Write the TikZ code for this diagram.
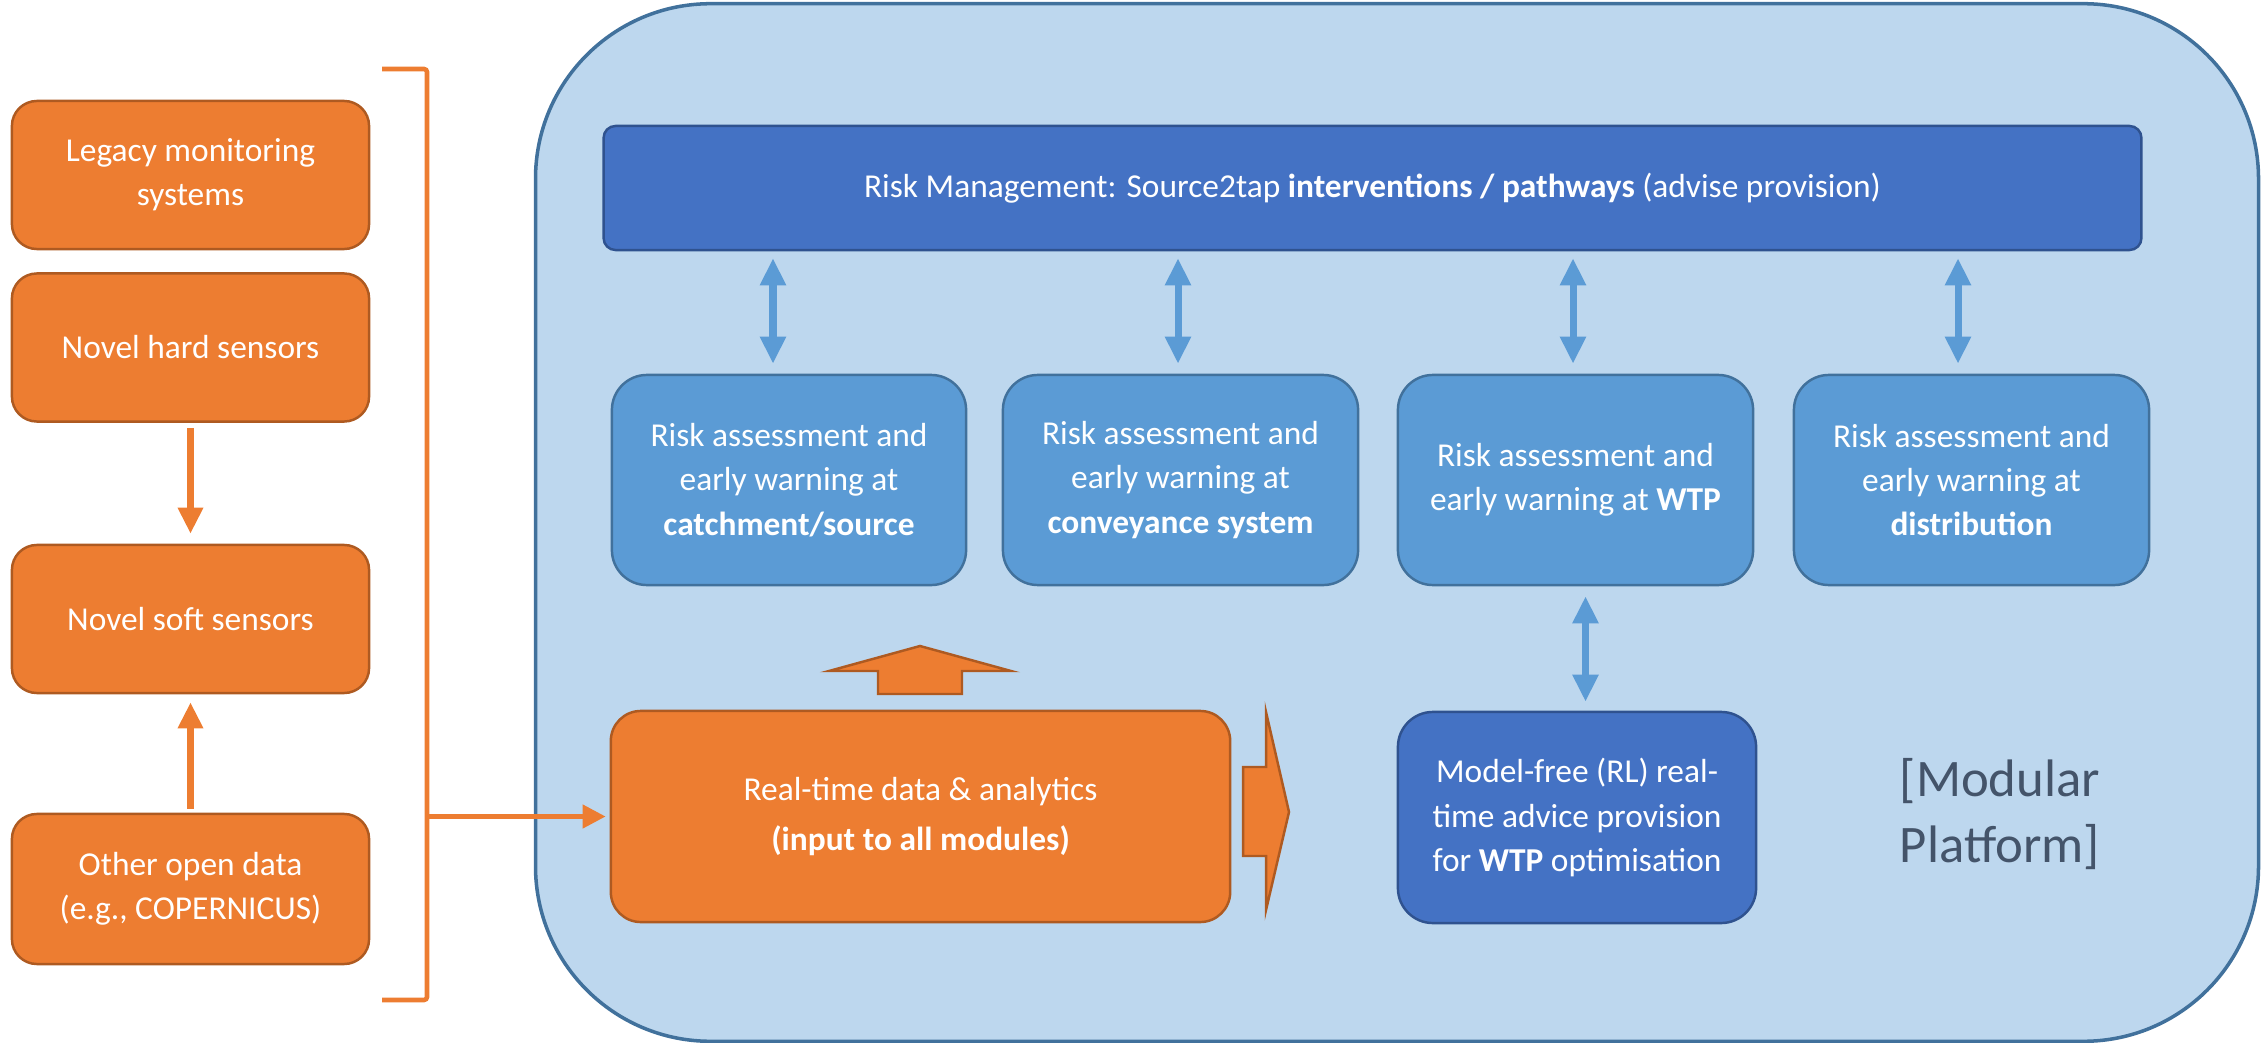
\documentclass[tikz,border=0pt]{standalone}
\usepackage{fontspec}
\setmainfont{Carlito}
\usetikzlibrary{arrows.meta}
\definecolor{orng}{HTML}{ED7D31}
\definecolor{orngd}{HTML}{AE5A21}
\definecolor{plat}{HTML}{BDD7EE}
\definecolor{platd}{HTML}{41719C}
\definecolor{bdark}{HTML}{4472C4}
\definecolor{bdarkd}{HTML}{2F528F}
\definecolor{bmid}{HTML}{5B9BD5}
\definecolor{bmidd}{HTML}{41719C}
\definecolor{slate}{HTML}{44546A}
\begin{document}
\begin{tikzpicture}[x=0.01cm,y=-0.01cm,
 txt/.style={text=white,font=\fontsize{9.5}{12.6}\selectfont,align=center,inner sep=0pt},
 obox/.style={txt,draw=orngd,fill=orng,line width=0.7pt,rounded corners=0.25cm},
 lbox/.style={obox,minimum width=3.57cm,minimum height=1.48cm},
 barbox/.style={txt,draw=bdarkd,fill=bdark,line width=0.7pt,rounded corners=0.12cm},
 rbox/.style={txt,draw=bmidd,fill=bmid,line width=0.7pt,rounded corners=0.35cm,minimum width=3.55cm,minimum height=2.1cm},
 oarr/.style={draw=orng,line width=2pt,-{Triangle[length=7.4pt,width=6.8pt]}},
 larr/.style={draw=orng,line width=1.3pt,-{Triangle[length=6.5pt,width=6.5pt]}},
 darr/.style={draw=bmid,line width=2pt,{Triangle[length=7.7pt,width=7pt]}-{Triangle[length=7.7pt,width=7pt]}},
 blk/.style={fill=orng,draw=orngd,line width=0.7pt,line join=miter}
]
\useasboundingbox (0,0) rectangle (2267,1043);
% platform
\node[draw=platd,fill=plat,line width=1pt,rounded corners=1.75cm,minimum width=17.22cm,minimum height=10.37cm,inner sep=0pt] (plat) at (1397,522.5) {};
% left column
\node[lbox] (legacy) at (190.5,175) {Legacy monitoring\\systems};
\node[lbox] (hard) at (190.5,347.5) {Novel hard sensors};
\node[lbox] (soft) at (190.5,619) {Novel soft sensors};
\node[lbox,minimum height=1.5cm] (other) at (190.5,889) {Other open data\\(e.g., COPERNICUS)};
\draw[oarr,shorten <=0.05cm,shorten >=0.1cm] (hard.south) -- (soft.north);
\draw[oarr,shorten <=0.04cm,shorten >=0.08cm] (other.north) -- (soft.south);
% bracket
\draw[draw=orng,line width=1.3pt,rounded corners=0.03cm] (382,69) -- (427,69) -- (427,1000) -- (382,1000);
\coordinate (brk) at (427,816.5);
% top bar
\node[barbox,minimum width=15.37cm,minimum height=1.24cm] (bar) at (1372.5,188) {Risk Management: Source2tap \textbf{interventions / pathways} (advise provision)};
% risk boxes
\node[rbox,minimum width=3.54cm] (r1) at (789,480) {Risk assessment and\\early warning at\\\textbf{catchment/source}};
\node[rbox] (r2) at (1180.5,480) {Risk assessment and\\early warning at\\\textbf{conveyance system}};
\node[rbox] (r3) at (1575.5,480) {Risk assessment and\\early warning at \textbf{WTP}};
\node[rbox] (r4) at (1971.5,480) {Risk assessment and\\early warning at\\\textbf{distribution}};
\draw[darr,shorten <=0.1cm,shorten >=0.07cm] ([xshift=-0.16cm]r1.north) -- ([xshift=-0.16cm]r1.north |- bar.south);
\draw[darr,shorten <=0.1cm,shorten >=0.07cm] ([xshift=-0.025cm]r2.north) -- ([xshift=-0.025cm]r2.north |- bar.south);
\draw[darr,shorten <=0.1cm,shorten >=0.07cm] ([xshift=-0.025cm]r3.north) -- ([xshift=-0.025cm]r3.north |- bar.south);
\draw[darr,shorten <=0.1cm,shorten >=0.07cm] ([xshift=-0.135cm]r4.north) -- ([xshift=-0.135cm]r4.north |- bar.south);
% real-time box
\node[obox,rounded corners=0.3cm,minimum width=6.19cm,minimum height=2.11cm,font=\fontsize{9.5}{14}\selectfont] (rt) at (920.5,816.5) {Real-time data \& analytics\\\textbf{(input to all modules)}};
\draw[larr,shorten >=0.04cm] (brk) -- (rt.west);
% RL box
\node[txt,draw=bdarkd,fill=bdark,line width=0.7pt,rounded corners=0.35cm,minimum width=3.58cm,minimum height=2.11cm] (rl) at (1577,817.5) {Model-free (RL) real-\\time advice provision\\for \textbf{WTP} optimisation};
\draw[darr,shorten <=0.1cm,shorten >=0.09cm] ([xshift=0.1cm]r3.south) -- ([xshift=0.1cm]r3.south |- rl.north);
% block arrows
\draw[blk] (878,694) -- (878,671) -- (829,671) -- (920,646) -- (1011,671) -- (962,671) -- (962,694) -- cycle;
\draw[blk] (1243,767) -- (1266,767) -- (1266,712) -- (1289,812) -- (1266,910) -- (1266,856) -- (1243,856) -- cycle;
% label
\node[text=slate,font=\fontsize{15}{18.5}\selectfont,align=left,inner sep=0pt] (mod) at (2000,814) {[Modular\\Platform]};
\end{tikzpicture}
\end{document}
